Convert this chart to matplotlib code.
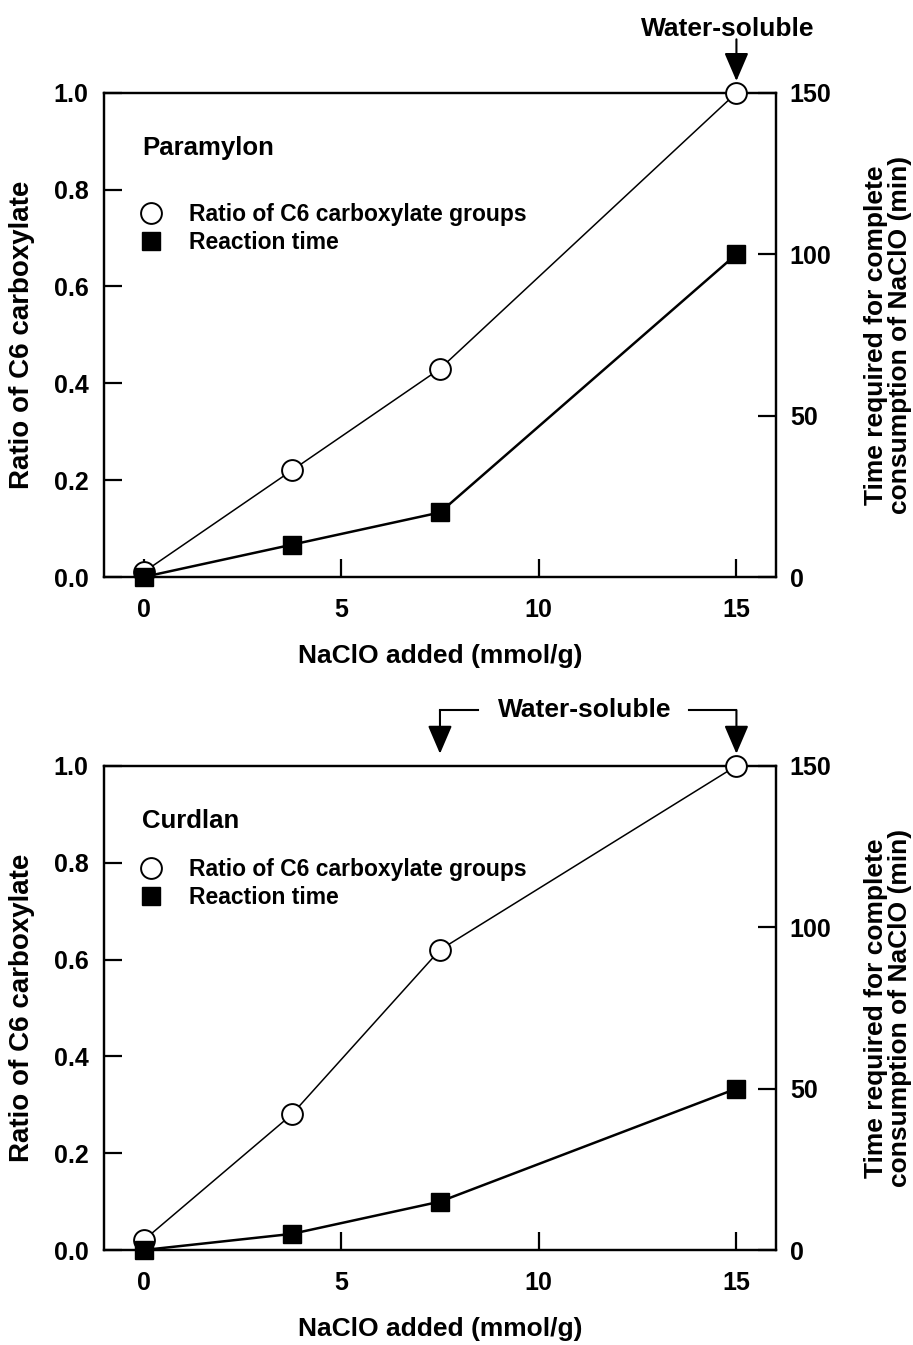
import matplotlib
matplotlib.use("Agg")
import matplotlib.pyplot as plt
from matplotlib.lines import Line2D

plt.rcParams['font.family'] = ['Liberation Sans', 'DejaVu Sans']
plt.rcParams['font.weight'] = 'bold'
plt.rcParams['axes.labelweight'] = 'bold'
plt.rcParams['font.size'] = 18

# NaClO added (mmol/g)
nacio = [0, 3.75, 7.5, 15]

# Paramylon
para_ratio = [0.01, 0.22, 0.43, 1.0]
para_time = [0, 10, 20, 100]

# Curdlan
curd_ratio = [0.02, 0.28, 0.62, 1.0]
curd_time = [0, 5, 15, 50]

x_ticks = [0, 5, 10, 15]
left_ticks = [0.0, 0.2, 0.4, 0.6, 0.8, 1.0]
right_ticks = [0, 50, 100, 150]

arrow = dict(arrowstyle='-|>,head_length=1.75,head_width=0.75',
             mutation_scale=10, color='black', lw=1.5,
             shrinkA=0, shrinkB=0)


def panel(ax, ratio, time, name, legend_top):
    ax2 = ax.twinx()
    ax.set_zorder(ax2.get_zorder() + 1)
    ax.patch.set_visible(False)

    ax.set_xlim(-1, 16)
    ax.set_ylim(0, 1.0)
    ax2.set_ylim(0, 150)

    # circles on the ratio axis, squares through the time axis scale
    ax.plot(nacio, ratio, '-o', color='black', lw=1.1, ms=15,
            mfc='white', mec='black', mew=1.4, clip_on=False, zorder=4)
    ax.plot(nacio, time, '-s', color='black', lw=1.8, ms=12.5,
            mfc='black', mec='black', clip_on=False, zorder=5,
            transform=ax2.transData)

    ax.set_xticks(x_ticks)
    ax.set_xticklabels([str(v) for v in x_ticks])
    ax.set_yticks(left_ticks)
    ax.set_yticklabels(['%.1f' % v for v in left_ticks])
    ax2.set_yticks(right_ticks)
    ax2.set_yticklabels([str(v) for v in right_ticks])

    ax.tick_params(axis='x', direction='in', length=13, width=1.6, pad=15)
    ax.tick_params(axis='y', direction='in', length=13, width=1.6, pad=11)
    ax2.tick_params(axis='y', direction='in', length=13, width=1.6, pad=10)
    for a in (ax, ax2):
        for s in a.spines.values():
            s.set_linewidth(1.6)

    ax.set_xlabel('NaClO added (mmol/g)', labelpad=16, fontsize=19)
    ax.text(-0.122, 0.5, 'Ratio of C6 carboxylate', transform=ax.transAxes,
            rotation=90, ha='center', va='center', fontsize=20)
    ax.text(1.166, 0.5,
            'Time required for complete\nconsumption of NaClO (min)',
            transform=ax.transAxes, rotation=90, ha='center', va='center',
            multialignment='center', linespacing=1.0, fontsize=19)

    ax.text(0.057, 0.886, name, transform=ax.transAxes, ha='left',
            va='center', fontsize=18.5)

    handles = [Line2D([], [], ls='none', marker='o', ms=15, mfc='white',
                      mec='black', mew=1.4),
               Line2D([], [], ls='none', marker='s', ms=12.5, mfc='black',
                      mec='black')]
    ax.legend(handles, ['Ratio of C6 carboxylate groups', 'Reaction time'],
              loc='upper left', bbox_to_anchor=(0.053, legend_top),
              frameon=False, borderpad=0, borderaxespad=0, fontsize=16.5,
              handlelength=1.0, handletextpad=1.15, labelspacing=0.22)
    return ax2


fig = plt.figure(figsize=(9.13, 13.45), dpi=100)
ax_top = fig.add_axes([0.1139, 0.571, 0.736, 0.36])
ax_bot = fig.add_axes([0.1139, 0.0706, 0.736, 0.36])

panel(ax_top, para_ratio, para_time, 'Paramylon', 0.773)
panel(ax_bot, curd_ratio, curd_time, 'Curdlan', 0.81)

# top panel: single arrow down to the last point
top_arrow = dict(arrow, shrinkB=8.5)
ax_top.annotate('', xy=(15, 1.0), xytext=(0, 38.5), xycoords='data',
                textcoords='offset points', annotation_clip=False,
                arrowprops=top_arrow)
ax_top.annotate('Water-soluble', xy=(15, 1.0), xytext=(-6, 41),
                xycoords='data', textcoords='offset points', fontsize=19,
                ha='center', va='baseline', annotation_clip=False)

# bottom panel: bracket with two arrows
bx = ax_bot.get_xaxis_transform()
y_br = 1.115
y_tip = 1.025
ax_bot.annotate('', xy=(7.5, y_tip), xytext=(7.5, y_br), xycoords=bx,
                textcoords=bx, annotation_clip=False, arrowprops=arrow)
ax_bot.annotate('', xy=(15, y_tip), xytext=(15, y_br), xycoords=bx,
                textcoords=bx, annotation_clip=False, arrowprops=arrow)
ax_bot.plot([7.5, 8.45], [y_br, y_br], color='black', lw=1.5,
            transform=bx, clip_on=False)
ax_bot.plot([13.8, 15], [y_br, y_br], color='black', lw=1.5,
            transform=bx, clip_on=False)
ax_bot.text(11.15, y_br, 'Water-soluble', transform=bx, fontsize=19,
            ha='center', va='center')

fig.savefig('out.png', dpi=100)
